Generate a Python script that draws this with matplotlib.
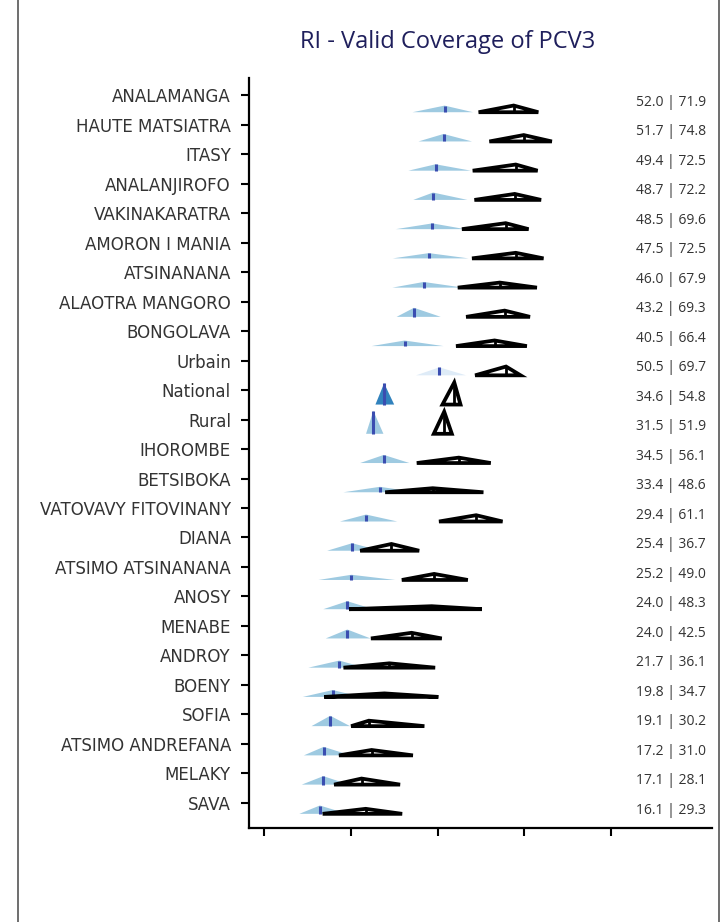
import matplotlib
matplotlib.use("Agg")
import matplotlib.pyplot as plt
from matplotlib.patches import Polygon
from matplotlib.transforms import blended_transform_factory

# regions, top to bottom
regions = ["ANALAMANGA", "HAUTE MATSIATRA", "ITASY", "ANALANJIROFO", "VAKINAKARATRA",
           "AMORON I MANIA", "ATSINANANA", "ALAOTRA MANGORO", "BONGOLAVA", "Urbain",
           "National", "Rural", "IHOROMBE", "BETSIBOKA", "VATOVAVY FITOVINANY", "DIANA",
           "ATSIMO ATSINANANA", "ANOSY", "MENABE", "ANDROY", "BOENY", "SOFIA",
           "ATSIMO ANDREFANA", "MELAKY", "SAVA"]

# first estimate (filled triangles) with its interval
est_a = [52.0, 51.7, 49.4, 48.7, 48.5, 47.5, 46.0, 43.2, 40.5, 50.5, 34.6, 31.5, 34.5,
         33.4, 29.4, 25.4, 25.2, 24.0, 24.0, 21.7, 19.8, 19.1, 17.2, 17.1, 16.1]
lo_a = [42.8, 44.5, 41.6, 43.0, 38.0, 37.1, 37.0, 38.2, 31.0, 43.8, 32.1, 29.4, 27.7,
        22.9, 21.9, 18.2, 15.7, 17.1, 17.8, 12.8, 11.2, 13.7, 11.5, 10.9, 10.2]
hi_a = [60.2, 59.9, 59.6, 58.6, 57.9, 58.9, 57.3, 50.9, 51.7, 58.2, 37.5, 34.4, 41.9,
        44.0, 38.4, 33.5, 37.8, 31.5, 30.7, 29.0, 28.0, 24.8, 25.0, 24.5, 24.0]

# second estimate (outlined triangles) with its interval
est_b = [71.9, 74.8, 72.5, 72.2, 69.6, 72.5, 67.9, 69.3, 66.4, 69.7, 54.8, 51.9, 56.1,
         48.6, 61.1, 36.7, 49.0, 48.3, 42.5, 36.1, 34.7, 30.2, 31.0, 28.1, 29.3]
lo_b = [61.8, 64.9, 60.1, 60.6, 57.0, 59.9, 55.8, 58.2, 55.3, 60.8, 51.4, 48.9, 44.0,
        34.9, 50.4, 27.7, 39.7, 24.5, 30.8, 22.9, 17.4, 25.1, 21.6, 20.2, 16.9]
hi_b = [79.0, 82.9, 78.8, 79.8, 76.2, 80.5, 78.6, 76.6, 75.7, 73.9, 56.6, 54.1, 65.3,
        63.2, 68.7, 44.7, 58.7, 62.7, 51.2, 49.3, 50.2, 46.2, 42.9, 39.2, 39.8]

xticks = [0, 25, 50, 75, 100]

AREA = 3.9        # every triangle has the same area (pct points x rows)
BASE_TOP = 0.58   # triangle base below its tick, first row
BASE_BOT = 0.37   # ... and last row

fill_a = {"National": "#3182bd", "Urbain": "#deebf7"}
FILL_DEFAULT = "#9ecae1"
MARK = "#3a4db0"
TXT = "#333333"

plt.rcParams["font.family"] = ["Open Sans", "DejaVu Sans"]

fig = plt.figure(figsize=(7.27, 9.22), dpi=100)
ax = fig.add_axes([249 / 727, 1 - 828 / 922, (712 - 249) / 727, (828 - 78) / 922])

n = len(regions)


def tri(lo, hi):
    return min(AREA / (hi - lo), 0.9)


for i, name in enumerate(regions):
    base = i + BASE_TOP + (BASE_BOT - BASE_TOP) * i / (n - 1)
    h = tri(lo_a[i], hi_a[i])
    ax.add_patch(Polygon([(lo_a[i], base), (est_a[i], base - h), (hi_a[i], base)],
                         closed=True, facecolor=fill_a.get(name, FILL_DEFAULT),
                         edgecolor="none", zorder=2))
    ax.plot([est_a[i], est_a[i]], [base, base - h], color=MARK, lw=2.2,
            solid_capstyle="butt", zorder=3)

    h = tri(lo_b[i], hi_b[i])
    ax.add_patch(Polygon([(lo_b[i], base), (est_b[i], base - h), (hi_b[i], base)],
                         closed=True, fill=False, edgecolor="black", lw=2.7,
                         joinstyle="miter", zorder=4))
    ax.plot([est_b[i], est_b[i]], [base, base - h], color="black", lw=2.0,
            solid_capstyle="butt", zorder=4)

ax.set_xlim(-4.3, 129)
ax.set_ylim(n - 1 + 0.85, -0.58)

ax.set_yticks(range(n))
ax.set_yticklabels(regions, fontsize=12, color=TXT, family="DejaVu Sans",
                   va="bottom")
ax.set_xticks(xticks)
ax.set_xticklabels([])
ax.tick_params(axis="both", direction="out", length=6, width=1.5, color="black")
ax.tick_params(axis="y", pad=7)
for lab in ax.get_yticklabels():
    lab.set_verticalalignment("center_baseline")
for side in ("top", "right"):
    ax.spines[side].set_visible(False)
for side in ("left", "bottom"):
    ax.spines[side].set_linewidth(1.6)

# value column on the right
tr = blended_transform_factory(fig.transFigure, ax.transData)
for i in range(n):
    ax.text(706 / 727, i + 0.25, "%.1f | %.1f" % (est_a[i], est_b[i]), transform=tr,
            ha="right", va="center", fontsize=10, color=TXT, clip_on=False)

fig.text(448 / 727, 1 - 42 / 922, "RI - Valid Coverage of PCV3", ha="center",
         va="center", fontsize=17, color="#1f1f5c")

# frame lines down both sides of the page
for x in (18 / 727, 719 / 727):
    fig.add_artist(plt.Line2D([x, x], [0, 1], transform=fig.transFigure,
                              color="#555555", lw=1.2))

fig.savefig("out.png", dpi=100)
